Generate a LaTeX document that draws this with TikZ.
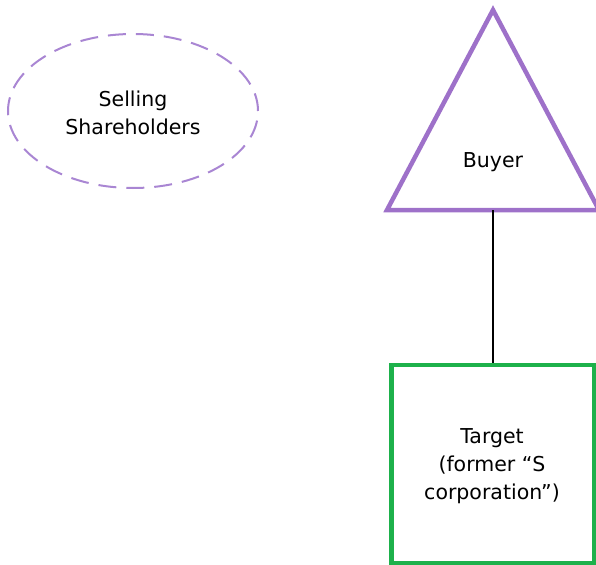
\documentclass[tikz,border=0pt]{standalone}
\usepackage{fontspec}
\setmainfont{DejaVu Sans}
\usetikzlibrary{shapes.geometric}
\definecolor{purp}{HTML}{9E71C9}
\definecolor{lpurp}{HTML}{A986D3}
\definecolor{grn}{HTML}{1DB14B}
\tikzset{
  lbl/.style={font=\fontsize{20.5}{28}\selectfont, align=center, text=black},
}
\begin{document}
\begin{tikzpicture}[x=1pt,y=-1pt]
\useasboundingbox (0,0) rectangle (596,564);
\node[ellipse, draw=lpurp, line width=2pt, dash pattern=on 18pt off 10pt,
      minimum width=250pt, minimum height=154pt, inner sep=0pt] (sell) at (133,111) {};
\node[lbl] (selltxt) at (133,113) {Selling\\Shareholders};
\coordinate (apex) at (493,10);
\coordinate (bl) at (387,210);
\coordinate (br) at (599,210);
\coordinate (base) at (493,210);
\draw[purp, line width=4.5pt, line join=miter] (apex) -- (bl) -- (br) -- cycle;
\node[lbl] (buyer) at (493,162) {Buyer};
\node[draw=grn, line width=4.5pt, minimum width=203pt, minimum height=198pt, inner sep=0pt] (target) at (493,464) {};
\node[lbl] (targettxt) at (492,466) {Target\\(former “S\\corporation”)};
\draw[black, line width=1.5pt] (base) -- (target.north);
\end{tikzpicture}
\end{document}
